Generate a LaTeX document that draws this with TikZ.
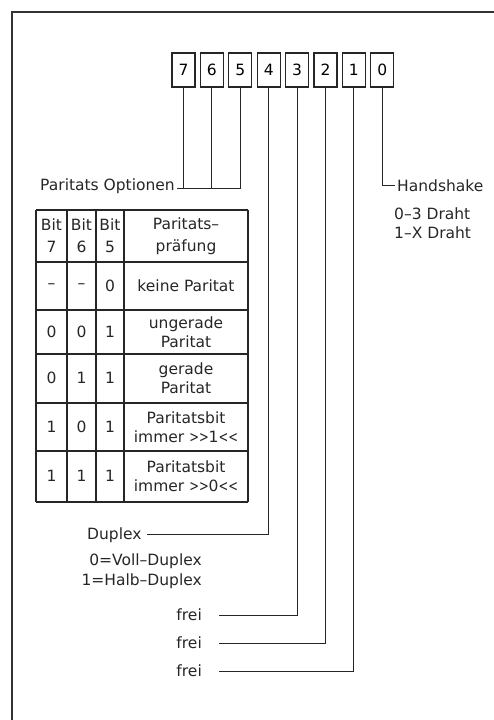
\documentclass[tikz,border=0pt]{standalone}
\usepackage{fontspec}
\setmainfont{DejaVu Sans}
\newcommand{\narrowgt}{\scalebox{0.75}[1]{>}}
\newcommand{\narrowlt}{\scalebox{0.75}[1]{<}}
\tikzset{
  bitbox/.style={rectangle, draw=black!85, line width=1.2pt, minimum width=23pt,
                 minimum height=34pt, inner sep=0pt},
  wire/.style={line width=1pt, black!85},
  tab/.style={line width=1.2pt, black!85},
  frame/.style={line width=1.4pt, black!80},
  lbl/.style={inner sep=0pt, text=black!85},
  cell/.style={inner sep=0pt, align=center, text=black!85},
}

\begin{document}
\begin{tikzpicture}[x=1pt, y=-1pt, font=\fontsize{15.5}{18.5}\selectfont]
\useasboundingbox (0,0) rectangle (494,720);
\draw[frame] (12,720) -- (12,12) -- (494,12);

% register bits
\foreach \b [count=\k from 0] in {7,6,5,4,3,2,1,0}
  \node[bitbox] (b\b) at ({183.5+28.4*\k},70) {\b};

% parity options
\node[lbl, anchor=base east] (opt) at (175,190) {Paritats Optionen};
\coordinate (optline) at (177,188);
\draw[wire] (b7.south) -- (b7 |- optline);
\draw[wire] (b6.south) -- (b6 |- optline);
\draw[wire] (optline) -- (b5 |- optline) -- (b5.south);

% parity table
\foreach \x in {36,67,96,124,248} \draw[tab] (\x,210) -- (\x,502);
\foreach \y in {210,262,310,354,403,451,502} \draw[tab] (36,\y) -- (248,\y);
\foreach \r/\y/\ba/\bb/\bc/\t in {
    0/236/{Bit\\[3.5pt]7}/{Bit\\[3.5pt]6}/{Bit\\[3.5pt]5}/{Paritats–\\[3.5pt]präfung},
    1/286/–/–/0/{keine Paritat},
    2/332/0/0/1/{ungerade\\Paritat},
    3/378/0/1/1/{gerade\\Paritat},
    4/427/1/0/1/{Paritatsbit\\immer \narrowgt\narrowgt1\narrowlt\narrowlt},
    5/476/1/1/1/{Paritatsbit\\immer \narrowgt\narrowgt0\narrowlt\narrowlt}}
{
  \node[cell] (p\r a) at (51.5,\y) {\ba};
  \node[cell] (p\r b) at (81.5,\y) {\bb};
  \node[cell] (p\r c) at (110,\y) {\bc};
  \node[cell] (p\r t) at (186,\y) {\t};
}

% duplex
\node[lbl, anchor=base west] (dup) at (87,539) {Duplex};
\coordinate (dupline) at (147,534);
\draw[wire] (dupline) -- (b4 |- dupline) -- (b4.south);
\node[lbl, anchor=base east] (dup0) at (202,565) {0=Voll–Duplex};
\node[lbl, anchor=base east] (dup1) at (202,585) {1=Halb–Duplex};

% free bits
\foreach \b/\y in {3/620,2/648,1/676} {
  \node[lbl, anchor=base east] (frei\b) at (202,\y) {frei};
  \coordinate (fl\b) at (219,\y-5);
  \draw[wire] (fl\b) -- (b\b |- fl\b) -- (b\b.south);
}

% handshake
\node[lbl, anchor=base west] (hs) at (397,191) {Handshake};
\coordinate (hsline) at (395,185);
\draw[wire] (b0.south) -- (b0 |- hsline) -- (hsline);
\node[lbl, anchor=base west] (dr0) at (394,219) {0–3 Draht};
\node[lbl, anchor=base west] (dr1) at (394,238) {1–X Draht};
\end{tikzpicture}
\end{document}
